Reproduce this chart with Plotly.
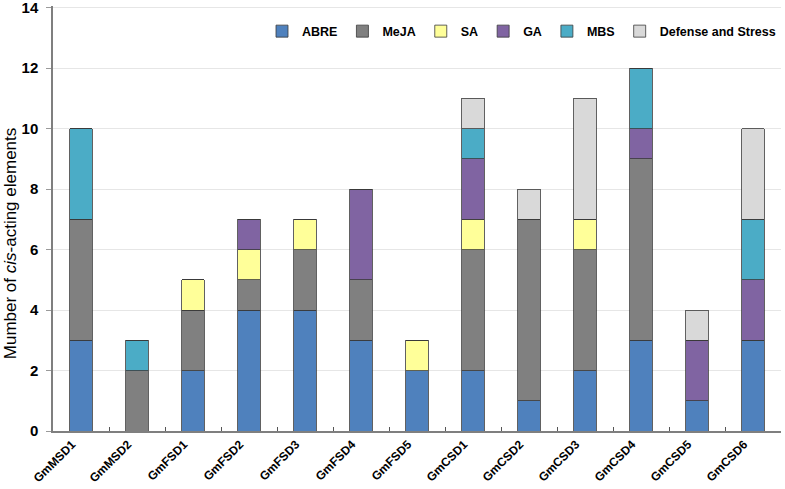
import plotly.graph_objects as go

genes = ["GmMSD1", "GmMSD2", "GmFSD1", "GmFSD2", "GmFSD3", "GmFSD4", "GmFSD5",
         "GmCSD1", "GmCSD2", "GmCSD3", "GmCSD4", "GmCSD5", "GmCSD6"]
abre = [3, 0, 2, 4, 4, 3, 2, 2, 1, 2, 3, 1, 3]
meja = [4, 2, 2, 1, 2, 2, 0, 4, 6, 4, 6, 0, 0]
sa = [0, 0, 1, 1, 1, 0, 1, 1, 0, 1, 0, 0, 0]
ga = [0, 0, 0, 1, 0, 3, 0, 2, 0, 0, 1, 2, 2]
mbs = [3, 1, 0, 0, 0, 0, 0, 1, 0, 0, 2, 0, 2]
defense = [0, 0, 0, 0, 0, 0, 0, 1, 1, 4, 0, 1, 3]
y_ticks = [0, 2, 4, 6, 8, 10, 12, 14]

series = [
    ("ABRE", abre, "#4F81BD"),
    ("MeJA", meja, "#808080"),
    ("SA", sa, "#FFFF99"),
    ("GA", ga, "#8064A2"),
    ("MBS", mbs, "#4BACC6"),
    ("Defense and Stress", defense, "#D9D9D9"),
]

FONT = "Liberation Sans, Arial, sans-serif"

fig = go.Figure()
for name, vals, color in series:
    fig.add_trace(go.Bar(
        x=genes, y=vals, name=name,
        marker=dict(color=color, line=dict(color="#3a3a3a", width=0.8)),
    ))

fig.update_layout(
    barmode="stack",
    bargap=0.59,
    width=785, height=489,
    margin=dict(l=53, r=4, t=5.5, b=58, autoexpand=False),
    plot_bgcolor="white", paper_bgcolor="white",
    font=dict(family=FONT, color="black"),
    legend=dict(
        orientation="h", x=1.0, xanchor="right", y=0.94, yanchor="middle",
        font=dict(size=12.5, family=FONT, weight="bold"),
        bgcolor="rgba(0,0,0,0)", itemwidth=30, traceorder="normal",
    ),
    showlegend=True,
    annotations=[dict(
        text="Mumber of <i>cis</i>-acting elements",
        xref="paper", yref="paper", x=(10 - 53) / 728, y=(431 - 243) / 425.5,
        xanchor="center", yanchor="middle", textangle=-90, showarrow=False,
        font=dict(size=17, family=FONT),
    )],
)
fig.update_xaxes(
    automargin=False,
    showline=True, linecolor="#7f7f7f", linewidth=1.5,
    ticks="inside", tickson="boundaries", ticklen=4, tickcolor="#555",
    tickangle=-45, tickfont=dict(size=12, weight="bold"),
    ticklabelshift=-9, ticklabeloverflow="allow",
    showgrid=False,
)
fig.update_yaxes(
    automargin=False,
    range=[0, 14.05], tickvals=y_ticks,
    showline=True, linecolor="#7f7f7f", linewidth=1.5,
    ticks="outside", ticklen=5, tickcolor="#9a9a9a", ticklabelstandoff=5,
    tickfont=dict(size=15, weight="bold"), ticklabeloverflow="allow",
    showgrid=True, gridcolor="#e6e6e6", gridwidth=1,
    zeroline=False,
)

fig.write_html(
    "out.html",
    config={"displayModeBar": False},
    post_script="document.body.style.margin='0';document.body.style.padding='0';",
)
